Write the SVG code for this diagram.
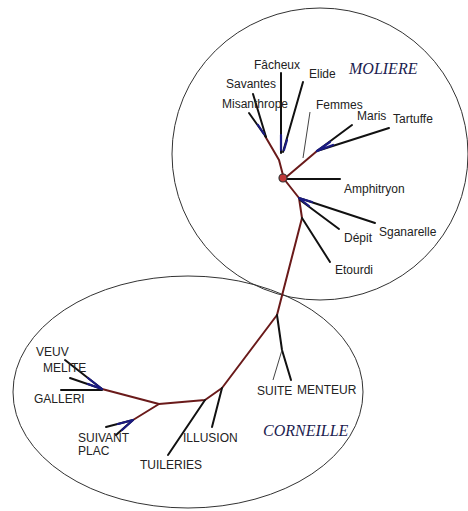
<svg xmlns="http://www.w3.org/2000/svg" width="468" height="511" viewBox="0 0 468 511">
<style>
.t{font-family:"Liberation Sans",Arial,sans-serif;font-size:12px;fill:#222}
.h{font-family:"Liberation Serif","Times New Roman",serif;font-style:italic;font-size:16px;fill:#1c1c50}
.ring{fill:none;stroke:#333;stroke-width:1}
.br{fill:none;stroke:#6a1a1a;stroke-width:2;stroke-linecap:round;stroke-linejoin:round}
.lf{fill:none;stroke:#111;stroke-width:2;stroke-linecap:round}
.bl{fill:none;stroke:#1a1a80;stroke-width:2.2;stroke-linecap:round}
.th{fill:none;stroke:#444;stroke-width:1}
</style>
<rect width="468" height="511" fill="#fff"/>
<g id="moliere-ring"><ellipse class="ring" cx="320" cy="154" rx="148" ry="146"/></g>
<g id="corneille-ring"><ellipse class="ring" cx="188" cy="392" rx="175" ry="116"/></g>
<g id="connectors">
<!-- trunk -->
<path class="br" d="M284,179 L299,198 L302,218 L277,315 L222,388 L205,400 L159,404 L102,389"/>
<path class="br" d="M159,404 L133,420"/>
<path class="br" d="M284,179 L279,160 L265,136"/>
<path class="br" d="M284,179 L317,151"/>
<!-- Moliere leaves -->
<path class="lf" d="M249,113 L266,137"/>
<path class="lf" d="M253,94 L266,137"/>
<path class="lf" d="M281,73 L281,153"/>
<path class="lf" d="M303,82 L283,152"/>
<path class="th" d="M310,112 L303,158"/>
<path class="lf" d="M352,125 L317,151"/>
<path class="lf" d="M389,128 L317,151"/>
<path class="lf" d="M285,179 L340,179"/>
<path class="lf" d="M299,198 L375,223"/>
<path class="lf" d="M300,200 L339,229"/>
<path class="lf" d="M302,218 L330,262"/>
<!-- blue tips -->
<path class="bl" d="M258,125 L264,134"/>
<path class="bl" d="M281,135 L281,150"/>
<path class="bl" d="M287,140 L284,150"/>
<path class="bl" d="M317,151 L330,142 M317,151 L333,145"/>
<path class="bl" d="M299,198 L312,202 M300,199 L309,206"/>
<!-- Corneille leaves -->
<path class="lf" d="M277,315 L282,350 L291,380"/>
<path class="th" d="M282,350 L273,380"/>
<path class="lf" d="M222,388 L212,427"/>
<path class="lf" d="M205,400 L168,455"/>
<path class="lf" d="M65,360 L102,389"/>
<path class="lf" d="M70,378 L102,389"/>
<path class="lf" d="M61,390 L102,390"/>
<path class="lf" d="M133,420 L106,427"/>
<path class="lf" d="M133,420 L116,435"/>
<path class="bl" d="M88,378 L102,389 M88,384 L102,389"/>
<path class="bl" d="M133,420 L118,424 M133,420 L122,430"/>
</g>
<g id="hub"><circle cx="283" cy="178" r="4" fill="#c03a3a" stroke="#333" stroke-width="1.2"/></g>
<g id="moliere"><text class="h" x="349" y="74">MOLIERE</text></g>
<g id="corneille"><text class="h" x="263" y="436">CORNEILLE</text></g>
<g id="fachaux"><text class="t" x="254" y="69">Fâcheux</text></g>
<g id="elide"><text class="t" x="309" y="78">Elide</text></g>
<g id="savantes"><text class="t" x="226" y="88">Savantes</text></g>
<g id="misanthrope"><text class="t" x="222" y="108">Misanthrope</text></g>
<g id="femmes"><text class="t" x="316" y="109">Femmes</text></g>
<g id="maris"><text class="t" x="357" y="120">Maris</text></g>
<g id="tartuffe"><text class="t" x="393" y="123">Tartuffe</text></g>
<g id="amphitryon"><text class="t" x="344" y="193">Amphitryon</text></g>
<g id="sganarelle"><text class="t" x="379" y="236">Sganarelle</text></g>
<g id="depit"><text class="t" x="344" y="242">Dépit</text></g>
<g id="etourdi"><text class="t" x="335" y="274">Etourdi</text></g>
<g id="suite"><text class="t" x="257" y="395">SUITE</text></g>
<g id="menteur"><text class="t" x="297" y="394">MENTEUR</text></g>
<g id="illusion"><text class="t" x="183" y="442">ILLUSION</text></g>
<g id="tuileries"><text class="t" x="140" y="469">TUILERIES</text></g>
<g id="veuv"><text class="t" x="36" y="356">VEUV</text></g>
<g id="melite"><text class="t" x="43" y="372">MELITE</text></g>
<g id="galleri"><text class="t" x="34" y="403">GALLERI</text></g>
<g id="suivant"><text class="t" x="78" y="442">SUIVANT</text></g>
<g id="plac"><text class="t" x="78" y="455">PLAC</text></g>
</svg>
